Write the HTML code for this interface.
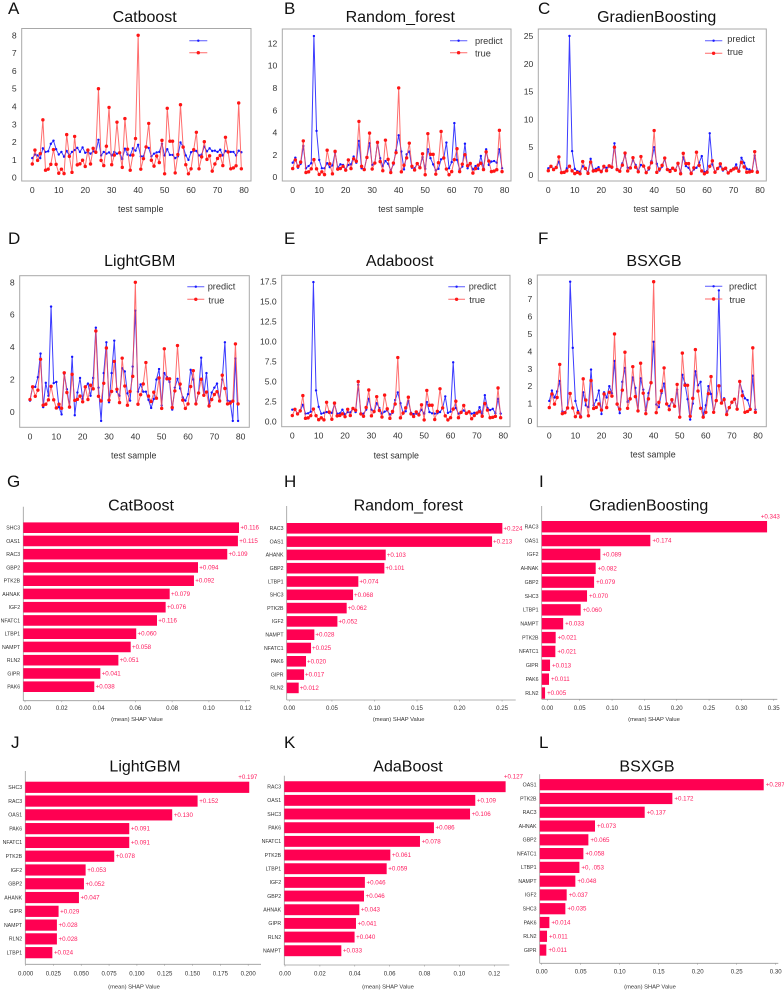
<!DOCTYPE html>
<html lang="en">
<head>
<meta charset="utf-8">
<title>Model predictions and SHAP values</title>
<style>
html,body{margin:0;padding:0;background:#fff;}
svg{display:block;font-family:"Liberation Sans",Arial,sans-serif;filter:blur(0.35px);}
.letter{font-size:17px;fill:#111;}
.title{font-size:16px;fill:#111;text-anchor:middle;}
.xlab{font-size:8.9px;fill:#333;text-anchor:middle;}
.shaplab{font-size:5.8px;fill:#333;text-anchor:middle;}
.leg{font-size:9.2px;fill:#333;}
</style>
</head>
<body>
<svg id="figure" width="784" height="991" viewBox="0 0 784 991" xmlns="http://www.w3.org/2000/svg">
<rect width="784" height="991" fill="#fff"/>

<text class="letter" x="8" y="14">A</text>
<text class="letter" x="284" y="14">B</text>
<text class="letter" x="538" y="14">C</text>
<text class="letter" x="8" y="244">D</text>
<text class="letter" x="284" y="244">E</text>
<text class="letter" x="538" y="244">F</text>
<text class="letter" x="7" y="487">G</text>
<text class="letter" x="284" y="487">H</text>
<text class="letter" x="539" y="487">I</text>
<text class="letter" x="11" y="748">J</text>
<text class="letter" x="284" y="748">K</text>
<text class="letter" x="539" y="748">L</text>

<text class="title" x="144.7" y="22">Catboost</text>
<text class="title" x="400.3" y="22">Random_forest</text>
<text class="title" x="656.7" y="22">GradienBoosting</text>
<text class="title" x="139.7" y="266">LightGBM</text>
<text class="title" x="399.7" y="266">Adaboost</text>
<text class="title" x="654" y="266">BSXGB</text>
<text class="title" x="141" y="510.7">CatBoost</text>
<text class="title" x="408.3" y="510.7">Random_forest</text>
<text class="title" x="648.7" y="510.7">GradienBoosting</text>
<text class="title" x="145" y="771.7">LightGBM</text>
<text class="title" x="408" y="771.7">AdaBoost</text>
<text class="title" x="647" y="771.7">BSXGB</text>

<text class="xlab" x="140.7" y="212">test sample</text>
<text class="xlab" x="401" y="212">test sample</text>
<text class="xlab" x="656.3" y="212">test sample</text>
<text class="xlab" x="133.7" y="458.3">test sample</text>
<text class="xlab" x="396.3" y="458.3">test sample</text>
<text class="xlab" x="653" y="457.5">test sample</text>

<text class="shaplab" x="137" y="721">(mean) SHAP Value</text>
<text class="shaplab" x="398.7" y="721">(mean) SHAP Value</text>
<text class="shaplab" x="654" y="721">(mean) SHAP Value</text>
<text class="shaplab" x="134" y="988.5">(mean) SHAP Value</text>
<text class="shaplab" x="388" y="988.5">(mean) SHAP Value</text>
<text class="shaplab" x="650" y="988.5">(mean) SHAP Value</text>

<g id="line-a"></g>
<g id="line-b"></g>
<g id="line-c"></g>
<g id="line-d"></g>
<g id="line-e"></g>
<g id="line-f"></g>
<g id="bar-g"></g>
<g id="bar-h"></g>
<g id="bar-i"></g>
<g id="bar-j"></g>
<g id="bar-k"></g>
<g id="bar-l"></g>

<g>
  <line x1="189.3" x2="207.3" y1="40.7" y2="40.7" stroke="#5a5aff" stroke-width="1"/>
  <circle cx="198.3" cy="40.7" r="1.2" fill="#1a1aff"/>
  <line x1="189.3" x2="207.3" y1="52.7" y2="52.7" stroke="#ff6a6a" stroke-width="1"/>
  <circle cx="198.3" cy="52.7" r="1.7" fill="#ff1a1a"/>
</g>
<g>
  <line x1="450" x2="467.3" y1="40.7" y2="40.7" stroke="#5a5aff" stroke-width="1"/>
  <circle cx="458.6" cy="40.7" r="1.2" fill="#1a1aff"/>
  <line x1="450" x2="467.3" y1="52.7" y2="52.7" stroke="#ff6a6a" stroke-width="1"/>
  <circle cx="458.6" cy="52.7" r="1.7" fill="#ff1a1a"/>
  <text class="leg" x="475" y="44">predict</text>
  <text class="leg" x="475" y="56.7">true</text>
</g>
<g>
  <line x1="705" x2="722.3" y1="40.7" y2="40.7" stroke="#5a5aff" stroke-width="1"/>
  <circle cx="713.6" cy="40.7" r="1.2" fill="#1a1aff"/>
  <line x1="705" x2="722.3" y1="53.3" y2="53.3" stroke="#ff6a6a" stroke-width="1"/>
  <circle cx="713.6" cy="53.3" r="1.7" fill="#ff1a1a"/>
  <text class="leg" x="727.3" y="42">predict</text>
  <text class="leg" x="727.3" y="55">true</text>
</g>
<g>
  <line x1="187.3" x2="204.3" y1="286.7" y2="286.7" stroke="#5a5aff" stroke-width="1"/>
  <circle cx="195.8" cy="286.7" r="1.2" fill="#1a1aff"/>
  <line x1="187.3" x2="204.3" y1="299.3" y2="299.3" stroke="#ff6a6a" stroke-width="1"/>
  <circle cx="195.8" cy="299.3" r="1.7" fill="#ff1a1a"/>
  <text class="leg" x="207.7" y="289.7">predict</text>
  <text class="leg" x="208.5" y="303.3">true</text>
</g>
<g>
  <line x1="448.3" x2="465" y1="286.7" y2="286.7" stroke="#5a5aff" stroke-width="1"/>
  <circle cx="456.6" cy="286.7" r="1.2" fill="#1a1aff"/>
  <line x1="448.3" x2="465" y1="299.3" y2="299.3" stroke="#ff6a6a" stroke-width="1"/>
  <circle cx="456.6" cy="299.3" r="1.7" fill="#ff1a1a"/>
  <text class="leg" x="468.7" y="289.3">predict</text>
  <text class="leg" x="469.3" y="303">true</text>
</g>
<g>
  <line x1="705" x2="722.3" y1="286.3" y2="286.3" stroke="#5a5aff" stroke-width="1"/>
  <circle cx="713.6" cy="286.3" r="1.2" fill="#1a1aff"/>
  <line x1="705" x2="722.3" y1="299" y2="299" stroke="#ff6a6a" stroke-width="1"/>
  <circle cx="713.6" cy="299" r="1.7" fill="#ff1a1a"/>
  <text class="leg" x="729" y="289.3">predict</text>
  <text class="leg" x="729.5" y="303">true</text>
</g>
</svg>

<script>
// ---------- prediction chart data ----------
const sampleTicks = [0,10,20,30,40,50,60,70,80];
const trueValues = [0.77,1.55,0.97,1.35,3.25,0.42,0.48,0.75,1.58,0.75,0.25,0.48,0.23,2.42,1.2,0.3,2.32,0.72,0.78,0.98,0.63,1.55,0.77,1.65,1.43,5.0,0.97,0.68,1.77,3.95,0.73,1.27,3.12,1.4,0.58,3.32,1.6,0.42,1.27,2.2,8.0,0.48,1.07,1.73,3.05,0.98,0.65,1.22,0.85,2.1,0.22,3.9,2.05,2.05,0.27,1.3,4.1,1.72,0.73,0.22,0.5,1.57,2.55,0.5,1.17,2.02,1.03,1.23,0.37,0.77,1.08,1.25,0.68,2.27,1.45,0.5,0.55,0.67,4.2,0.5];
const catboostPredict = [1.1,1.3,1.25,1.1,1.65,1.45,1.48,1.9,2.08,1.6,1.3,1.45,1.18,1.5,1.25,1.45,1.55,1.68,1.45,1.7,1.4,1.45,1.35,1.48,1.42,2.13,1.25,1.45,1.35,1.42,1.25,1.45,1.35,1.4,1.05,1.63,1.3,1.25,1.65,1.52,1.85,1.2,1.2,1.72,1.67,1.2,1.35,1.42,1.45,1.9,1.25,1.6,1.28,1.28,1.1,1.2,1.98,1.75,1.25,1.0,1.43,1.5,1.5,1.25,1.3,1.75,1.48,1.65,1.5,1.52,1.45,1.57,1.25,1.5,1.45,1.45,1.45,1.25,1.52,1.43];
const randomForestPredict = [1.3,1.75,0.85,1.2,2.8,0.8,1.0,1.25,12.65,4.15,1.55,0.8,0.8,1.25,0.9,1.05,2.2,0.85,1.15,1.1,0.7,1.1,1.15,1.85,1.3,3.25,0.8,0.7,1.8,3.05,1.1,1.3,3.1,1.7,1.0,1.45,1.2,0.6,1.15,2.4,3.75,2.3,0.7,2.05,2.3,0.85,0.8,1.2,0.9,1.8,0.75,2.5,1.7,1.15,0.6,0.75,1.6,1.7,3.1,0.8,1.35,4.85,1.55,0.7,0.95,3.0,0.8,1.2,0.7,1.0,0.75,1.9,0.8,2.5,1.1,1.4,1.45,1.3,2.5,0.8];
const gradienBoostingPredict = [1.2,1.5,1.1,1.3,2.4,0.5,0.5,1.2,25,4.3,1.1,0.7,0.6,1.6,1.1,0.5,2.9,0.9,1.1,1.4,0.5,1.4,1.3,1.5,1.3,5.7,0.9,0.8,2.1,3.6,1.3,1.3,2.7,1.8,0.8,1.8,1.7,0.5,1,2.5,5.0,2.0,0.8,1.5,2.9,0.9,0.9,1.2,0.9,2.0,0.5,3.2,1.6,1.3,0.4,1.0,1.3,2.2,3.4,0.5,0.7,7.5,1.9,0.6,1.1,1.6,0.8,1.1,0.4,0.9,1.1,1.9,0.7,3.1,2.2,1.1,1.0,0.7,3.5,0.7];
const lightgbmPredict = [0.7,1.55,1.55,2.15,3.6,0.3,1.8,1.0,6.5,1.78,1.85,0.3,-0.15,2.35,1.4,0.35,3.4,-0.2,1.2,2.1,0.8,1.55,1.75,1.0,2.1,5.2,1.5,-0.55,2.4,4.3,0.6,2.4,4.4,1.25,1.0,2.7,2.5,1.15,0.7,2.8,6.25,1.25,1.7,1.25,1.25,0.75,0.25,0.8,2.0,2.65,0.4,2.4,2.15,1.85,0.15,1.5,2.05,1.45,0.9,0.7,1.1,2.6,2.0,0.5,1.2,3.35,1.05,2.4,0.5,1.2,1.5,1.75,0.7,2.0,4.3,0.7,0.65,-0.55,3.3,-0.55];
const adaboostPredict = [1.5,1.55,1.0,1.35,2.1,1.0,1.05,1.25,17.4,3.9,1.85,1.0,1.1,1.2,1.1,1.1,2.2,1.0,1.05,1.5,0.9,1.2,1.15,1.7,1.2,4.6,0.95,1.0,1.5,2.85,1.5,1.2,2.3,1.7,1.0,1.25,1.4,0.9,1.1,2.7,3.65,2.3,1.1,1.3,2.6,1.1,0.95,1.0,1.0,1.5,1.0,2.45,1.2,1.05,1.0,1.05,1.2,1.7,3.15,1.1,1.25,7.4,1.7,1.0,1.2,1.4,1.1,1.2,1.0,1.1,1.0,1.8,1.0,3.3,1.7,1.45,1.6,1.05,2.85,1.0];
const bsxgbPredict = [1.15,1.75,1.35,1.7,2.3,0.55,0.5,0.75,8.0,4.2,1.15,0.58,0.3,1.65,0.9,0.8,2.95,0.9,1.2,1.75,0.4,1.65,1.35,2.0,1.6,3.45,1.0,0.45,2.25,3.05,1.1,1.3,2.5,1.9,0.6,2.45,1.8,0.6,1.6,2.2,4.55,0.95,0.8,1.6,2.15,0.95,0.85,1.15,0.85,1.8,0.22,2.65,2.15,1.25,0.08,1.0,2.85,2.05,2.25,0.3,0.9,2.0,1.55,0.5,1.2,7.5,1.05,1.3,0.5,0.75,1.1,1.25,0.7,2.25,1.7,1.3,1.2,0.7,2.6,0.65];
const catboostYTicks = ["0","1","2","3","4","5","6","7","8"];
const randomForestYTicks = ["0","2","4","6","8","10","12"];
const gradienBoostingYTicks = ["0","5","10","15","20","25"];
const lightgbmYTicks = ["0","2","4","6","8"];
const adaboostYTicks = ["0.0","2.5","5.0","7.5","10.0","12.5","15.0","17.5"];
const bsxgbYTicks = ["0","1","2","3","4","5","6","7","8"];

// ---------- SHAP chart data ----------
const catboostGenes = ["SHC3","OAS1","RAC3","GBP2","PTK2B","AHNAK","IGF2","NFATC1","LTBP1","NAMPT","RLN2","GIPR","PAK6"];
const catboostShap = [0.1173,0.1167,0.1109,0.095,0.0928,0.0796,0.0774,0.0727,0.0614,0.0584,0.0517,0.0419,0.0386];
const catboostPrinted = ["+0.116","+0.115","+0.109","+0.094","+0.092","+0.079","+0.076","+0.116","+0.060","+0.058","+0.051","+0.041","+0.038"];
const catboostShapTicks = ["0.00","0.02","0.04","0.06","0.08","0.10","0.12"];

const randomForestGenes = ["RAC3","OAS1","AHANK","GBP2","LTBP1","SHC3","PTK2B","IGF2","NAMPT","NFATC1","PAK6","GIPR","RLN2"];
const randomForestShap = [0.2535,0.2414,0.1164,0.1148,0.0842,0.078,0.0705,0.0596,0.0325,0.0286,0.0227,0.0204,0.0141];
const randomForestPrinted = ["+0.224","+0.213","+0.103","+0.101","+0.074","+0.068","+0.062","+0.052","+0.028","+0.025","+0.020","+0.017","+0.012"];
const randomForestShapTicks = ["0.00","0.05","0.10","0.15","0.20","0.25"];

const gradienBoostingGenes = ["RAC3","OAS1","IGF2","AHNAK","GBP2","SHC3","LTBP1","NAMPT","PTK2B","NFATC1","GIPR","PAK6","RLN2"];
const gradienBoostingShap = [0.3485,0.168,0.0907,0.0835,0.081,0.0701,0.0603,0.0332,0.0216,0.0211,0.0129,0.0113,0.0052];
const gradienBoostingPrinted = ["+0.343","+0.174","+0.089","+0.082","+0.079","+0.070","+0.060","+0.033","+0.021","+0.021","+0.013","+0.011","+0.005"];
const gradienBoostingShapTicks = ["0.00","0.05","0.10","0.15","0.20","0.25","0.30","0.35"];

const lightgbmGenes = ["SHC3","RAC3","OAS1","PAK6","NFATC1","PTK2B","IGF2","GBP2","AHANK","GIPR","NAMPT","RLN2","LTBP1"];
const lightgbmShap = [0.2012,0.1548,0.132,0.0934,0.0934,0.0799,0.0542,0.0527,0.0482,0.0299,0.0284,0.0284,0.0243];
const lightgbmPrinted = ["+0.197","+0.152","+0.130","+0.091","+0.091","+0.078","+0.053","+0.052","+0.047","+0.029","+0.028","+0.028","+0.024"];
const lightgbmShapTicks = ["0.000","0.025","0.050","0.075","0.100","0.125","0.150","0.175","0.200"];

const adaboostGenes = ["RAC3","OAS1","SHC3","PAK6","NFATC1","PTK2B","LTBP1","IGF2","GBP2","AHNAK","GIPR","RLN2","NAMPT"];
const adaboostShap = [0.1269,0.1095,0.1065,0.0858,0.0778,0.0608,0.0587,0.0462,0.0457,0.043,0.0411,0.0403,0.0327];
const adaboostPrinted = ["+0.127","+0.109","+0.106","+0.086","+0.078","+0.061","+0.059","+0.046","+0.046","+0.043","+0.041","+0.040","+0.033"];
const adaboostShapTicks = ["0.00","0.02","0.04","0.06","0.08","0.10","0.12"];

const bsxgbGenes = ["OAS1","PTK2B","RAC3","AHNAK","GBP2","NFATC1","LTBP1","NAMPT","IGF2","SHC3","PAK6","RLN2","GIPR"];
const bsxgbShap = [0.2872,0.1701,0.1346,0.0709,0.0624,0.056,0.0509,0.0457,0.0346,0.0329,0.0124,0.0094,0.0085];
const bsxgbPrinted = ["+0.287","+0.172","+0.137","+0.073","+0.065","+0.058","+0, .053","+0.048","+0.037","+0.035","+0.014","+0.011","+0.011"];
const bsxgbShapTicks = ["0.00","0.05","0.10","0.15","0.20","0.25","0.30"];

// ---------- drawing ----------
const NS = "http://www.w3.org/2000/svg";
function make(tag, parent, attrs, text) {
  const el = document.createElementNS(NS, tag);
  for (const k in attrs) el.setAttribute(k, attrs[k]);
  if (text !== undefined) el.textContent = text;
  parent.appendChild(el);
  return el;
}

function drawLinePanel(id, predict, yTicks, box) {
  const g = document.getElementById(id);
  const x = v => box.x0 + (v / 80) * (box.x80 - box.x0);
  const topVal = parseFloat(yTicks[yTicks.length - 1]);
  const y = v => box.y0 - (v / topVal) * (box.y0 - box.yTop);

  const frame = make("rect", g, {x: box.left, y: box.top, width: box.right - box.left, height: box.bottom - box.top, fill: "#fff", stroke: "#a8a8a8", "stroke-width": 1});
  
  

  yTicks.forEach(t => {
    const lab = make("text", g, {x: box.left - 5, y: y(parseFloat(t)) + 3, "text-anchor": "end", "font-size": 8.6, fill: "#333"}, t);
    
    
  });
  sampleTicks.forEach(t => {
    const lab = make("text", g, {x: x(t), y: box.bottom + 12, "text-anchor": "middle", "font-size": 8.6, fill: "#333"}, String(t));
    
    
  });

  const predictPts = predict.map((v, i) => x(i).toFixed(2) + "," + y(v).toFixed(2)).join(" ");
  const predictLine = make("polyline", g, {points: predictPts, fill: "none", stroke: "#3c3cff", "stroke-width": 1, "stroke-linejoin": "round"});
  
  
  predict.forEach((v, i) => {
    const dot = make("circle", g, {cx: x(i), cy: y(v), r: 1.2, fill: "#1414ff"});
    
    
  });

  const truePts = trueValues.map((v, i) => x(i).toFixed(2) + "," + y(v).toFixed(2)).join(" ");
  const trueLine = make("polyline", g, {points: truePts, fill: "none", stroke: "#ff4a4a", "stroke-opacity": 0.8, "stroke-width": 1, "stroke-linejoin": "round"});
  
  
  trueValues.forEach((v, i) => {
    const dot = make("circle", g, {cx: x(i), cy: y(v), r: 1.7, fill: "#ff1414"});
    
    
  });
}

function drawBarPanel(id, genes, shap, printed, ticks, box) {
  const g = document.getElementById(id);
  const x = v => box.axis + v * box.k;
  const rowY = i => box.first + i * box.step;

  const yAxis = make("line", g, {x1: box.axis, x2: box.axis, y1: box.top, y2: box.bottom, stroke: "#9a9a9a", "stroke-width": 0.8});
  
  
  const xAxis = make("line", g, {x1: box.axis, x2: box.right, y1: box.bottom, y2: box.bottom, stroke: "#9a9a9a", "stroke-width": 0.8});
  
  

  ticks.forEach(t => {
    const v = parseFloat(t);
    const px = box.axis + box.tickShift + v * box.k;
    const mark = make("line", g, {x1: px, x2: px, y1: box.bottom, y2: box.bottom + 1.5, stroke: "#9a9a9a", "stroke-width": 0.6});
    
    
    const lab = make("text", g, {x: px, y: box.tickY, "text-anchor": "middle", "font-size": 6.1, fill: "#333"}, t);
    
    
  });

  genes.forEach((name, i) => {
    const c = rowY(i);
    const bar = make("rect", g, {x: box.axis, y: c - box.h / 2, width: x(shap[i]) - box.axis, height: box.h, fill: "#ff0052"});
    
    

    const gene = make("text", g, {x: box.axis - 3.2, y: c + 1.8, "text-anchor": "end", "font-size": 5.2, fill: "#333"}, name);
    
    

    let lx = x(shap[i]) + box.labelDx;
    let ly = c + 2;
    if (i === 0 && box.topDx !== undefined) {
      lx = x(shap[i]) + box.topDx;
      ly = c - 8.2;
    }
    const val = make("text", g, {x: lx, y: ly, "font-size": 6.2, fill: "#ff1a5e"}, printed[i]);
    
    
  });
}

drawLinePanel("line-a", catboostPredict, catboostYTicks, {left:21.7,right:251,top:28.5,bottom:181,x0:32.3,x80:244,y0:177.7,yTop:35.3});
drawLinePanel("line-b", randomForestPredict, randomForestYTicks, {left:282.3,right:511,top:29,bottom:181,x0:292.7,x80:504.7,y0:177.2,yTop:43.3});
drawLinePanel("line-c", gradienBoostingPredict, gradienBoostingYTicks, {left:538.3,right:766.3,top:29,bottom:181,x0:548.3,x80:760,y0:175,yTop:36});
drawLinePanel("line-d", lightgbmPredict, lightgbmYTicks, {left:19.7,right:249.3,top:275.7,bottom:427.3,x0:30,x80:240.7,y0:412,yTop:282.3});
drawLinePanel("line-e", adaboostPredict, adaboostYTicks, {left:281.7,right:510,top:275.3,bottom:426.7,x0:292.3,x80:503.3,y0:421.7,yTop:281.3});
drawLinePanel("line-f", bsxgbPredict, bsxgbYTicks, {left:537.3,right:766.3,top:275,bottom:426.7,x0:549.3,x80:758,y0:421,yTop:281.7});

drawBarPanel("bar-g", catboostGenes, catboostShap, catboostPrinted, catboostShapTicks, {axis:23.3,k:1839,tickShift:1.7,first:527.7,step:13.25,h:10.6,top:506.7,bottom:700.7,right:250,tickY:710,labelDx:1.3});
drawBarPanel("bar-h", randomForestGenes, randomForestShap, randomForestPrinted, randomForestShapTicks, {axis:286.7,k:850.7,tickShift:2.7,first:528.3,step:13.3,h:10.6,top:506,bottom:700,right:515.7,tickY:710,labelDx:1});
drawBarPanel("bar-i", gradienBoostingGenes, gradienBoostingShap, gradienBoostingPrinted, gradienBoostingShapTicks, {axis:541.7,k:646.7,tickShift:5.7,first:526.7,step:13.86,h:11.4,top:506,bottom:699.3,right:777.3,tickY:710,labelDx:2,topDx:-6.3});
drawBarPanel("bar-j", lightgbmGenes, lightgbmShap, lightgbmPrinted, lightgbmShapTicks, {axis:25.3,k:1113,tickShift:0.3,first:787.3,step:13.78,h:11.2,top:771,bottom:964.3,right:261,tickY:975.3,labelDx:1.6,topDx:-11});
drawBarPanel("bar-k", adaboostGenes, adaboostShap, adaboostPrinted, adaboostShapTicks, {axis:284.3,k:1744,tickShift:0.7,first:786.7,step:13.67,h:10.9,top:775.7,bottom:965,right:509.3,tickY:975.3,labelDx:1.6,topDx:-1.7});
drawBarPanel("bar-l", bsxgbGenes, bsxgbShap, bsxgbPrinted, bsxgbShapTicks, {axis:539.7,k:780,tickShift:2,first:784.7,step:13.78,h:11.2,top:774.3,bottom:963.3,right:778.3,tickY:973.7,labelDx:2});
</script>
</body>
</html>
